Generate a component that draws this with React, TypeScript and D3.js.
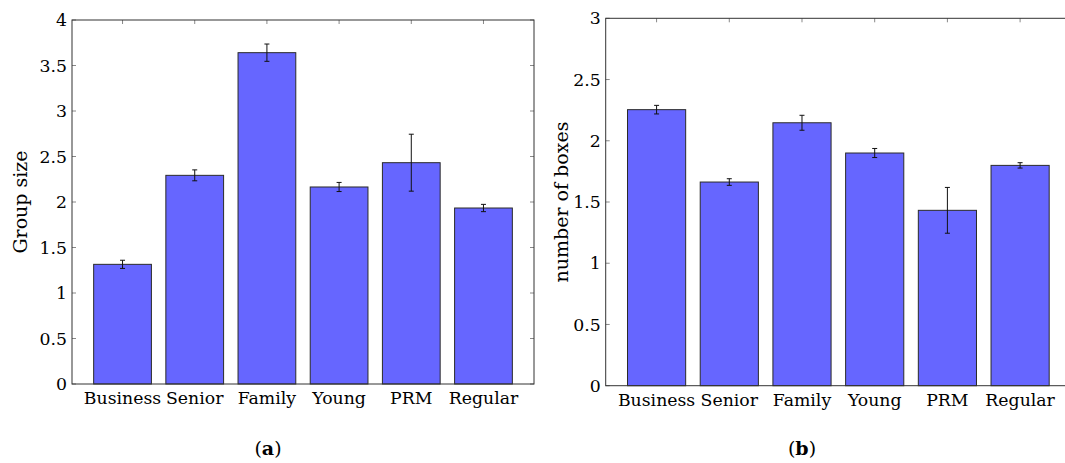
import React from "react";
import * as d3 from "d3";

const categories = ["Business", "Senior", "Family", "Young", "PRM", "Regular"];
const groupSize = [1.315, 2.293, 3.641, 2.165, 2.432, 1.934];
const groupSizeErr = [0.045, 0.06, 0.095, 0.05, 0.313, 0.04];
const boxes = [2.254, 1.663, 2.147, 1.9, 1.432, 1.799];
const boxesErr = [0.035, 0.027, 0.061, 0.037, 0.187, 0.022];
const ticksA = [0, 0.5, 1, 1.5, 2, 2.5, 3, 3.5, 4];
const ticksB = [0, 0.5, 1, 1.5, 2, 2.5, 3];

const FONT = "'DejaVu Serif', 'Liberation Serif', serif";
const TICK_FS = 17.3;
const LABEL_FS = 19;

type PanelProps = {
  x0: number; x1: number; y0: number; y1: number;
  values: number[]; errs: number[]; ticks: number[]; ymax: number;
  ylabel: string; ylabelX: number; caption: string; captionX: number;
};

function Panel(p: PanelProps) {
  const x = d3.scalePoint<string>().domain(categories).range([p.x0, p.x1]).padding(0.7);
  const y = d3.scaleLinear().domain([0, p.ymax]).range([p.y1, p.y0]);
  const bw = x.step() * 0.8;
  const tl = 4;
  const fmt = (v: number) => String(v);
  return (
    <g>
      {p.ticks.map((t) => (
        <g key={"yt" + t}>
          <line x1={p.x0} x2={p.x0 + tl} y1={y(t)} y2={y(t)} stroke="#888" strokeWidth={1} />
          <line x1={p.x1} x2={p.x1 - tl} y1={y(t)} y2={y(t)} stroke="#888" strokeWidth={1} />
          <text x={p.x0 - 5} y={y(t)} dy="0.35em" textAnchor="end" fontFamily={FONT} fontSize={TICK_FS} fill="#000">
            {fmt(t)}
          </text>
        </g>
      ))}
      {categories.map((c) => (
        <g key={"xt" + c}>
          <line x1={x(c)!} x2={x(c)!} y1={p.y0} y2={p.y0 + tl} stroke="#888" strokeWidth={1} />
          <line x1={x(c)!} x2={x(c)!} y1={p.y1} y2={p.y1 - tl} stroke="#888" strokeWidth={1} />
          <text x={x(c)!} y={p.y1 + 20} textAnchor="middle" fontFamily={FONT} fontSize={TICK_FS} fill="#000">
            {c}
          </text>
        </g>
      ))}
      {categories.map((c, i) => (
        <rect key={"b" + c} x={x(c)! - bw / 2} y={y(p.values[i])} width={bw}
          height={y(0) - y(p.values[i])} fill="#6666ff" stroke="#2a2a2a" strokeWidth={1} />
      ))}
      {categories.map((c, i) => {
        const cx = x(c)!;
        const hi = y(p.values[i] + p.errs[i]);
        const lo = y(p.values[i] - p.errs[i]);
        return (
          <g key={"e" + c} stroke="#111" strokeWidth={1}>
            <line x1={cx} x2={cx} y1={hi} y2={lo} />
            <line x1={cx - 2.5} x2={cx + 2.5} y1={hi} y2={hi} />
            <line x1={cx - 2.5} x2={cx + 2.5} y1={lo} y2={lo} />
          </g>
        );
      })}
      <rect x={p.x0} y={p.y0} width={p.x1 - p.x0} height={p.y1 - p.y0} fill="none" stroke="#333" strokeWidth={1} />
      <text transform={`translate(${p.ylabelX},${(p.y0 + p.y1) / 2}) rotate(-90)`} textAnchor="middle"
        fontFamily={FONT} fontSize={LABEL_FS} fill="#000">
        {p.ylabel}
      </text>
      <text x={p.captionX} y={455} textAnchor="middle" fontFamily={FONT} fontSize={LABEL_FS} fill="#000">
        (<tspan fontWeight="bold">{p.caption}</tspan>)
      </text>
    </g>
  );
}

export default function App() {
  return (
    <svg width={1065} height={463} style={{ position: "fixed", left: 0, top: 0, background: "#fff" }}>
      <rect x={0} y={0} width={1065} height={463} fill="#fff" />
      <Panel x0={72} x1={534} y0={20} y1={384} values={groupSize} errs={groupSizeErr} ticks={ticksA}
        ymax={4} ylabel="Group size" ylabelX={27} caption="a" captionX={268} />
      <Panel x0={605.7} x1={1071} y0={18.3} y1={385.7} values={boxes} errs={boxesErr} ticks={ticksB}
        ymax={3} ylabel="number of boxes" ylabelX={568} caption="b" captionX={802} />
    </svg>
  );
}
